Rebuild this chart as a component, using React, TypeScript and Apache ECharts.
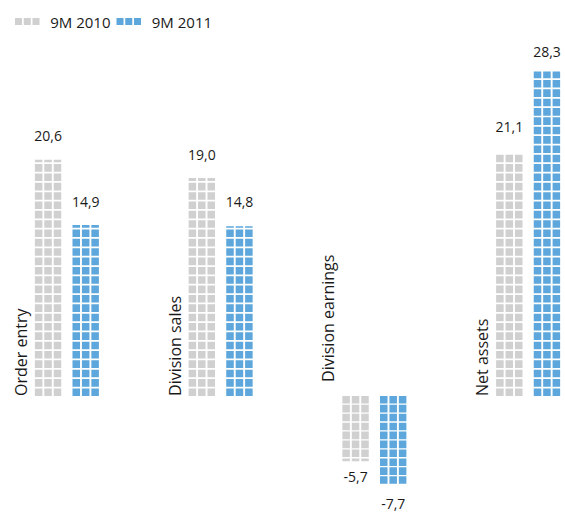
import React, { useEffect, useRef } from 'react';
import * as echarts from 'echarts';

const categories = ['Order entry', 'Division sales', 'Division earnings', 'Net assets'];
const seriesNames = ['9M 2010', '9M 2011'];
const values2010 = [20.6, 19.0, -5.7, 21.1];
const values2011 = [14.9, 14.8, -7.7, 28.3];

const GRAY = '#d0d0d0';
const BLUE = '#5ea7dc';
const TEXT = '#1a1a1a';
const FONT = '"Open Sans", "Noto Sans", sans-serif';
const ICON = 'path://M0,0h8v8h-8z M10,0h8v8h-8z M20,0h8v8h-8z';

const fmt = (v: number) => v.toFixed(1).replace('.', ',');

function makeSeries(name: string, values: number[], color: string) {
  return {
    type: 'pictorialBar',
    name,
    data: values.map((v) => ({
      value: v,
      label: { position: v < 0 ? 'bottom' : 'top', distance: v < 0 ? 4 : 12 },
    })),
    symbol: ICON,
    symbolSize: [26.5, 7.5],
    symbolRepeat: true,
    symbolMargin: 1,
    symbolClip: true,
    symbolBoundingData: [-10, 30],
    barWidth: 26.5,
    barGap: '42%',
    itemStyle: { color },
    label: {
      show: true,
      formatter: (p: any) => fmt(p.value),
      fontSize: 14,
      fontFamily: FONT,
      color: TEXT,
    },
  };
}

export default function App() {
  const ref = useRef<HTMLDivElement>(null);
  useEffect(() => {
    if (!ref.current) return;
    const chart = echarts.init(ref.current, undefined, { renderer: 'svg' });
    chart.setOption({
      animation: false,
      backgroundColor: '#ffffff',
      legend: {
        data: seriesNames,
        left: 20,
        top: 9,
        icon: ICON,
        itemWidth: 26,
        itemHeight: 7,
        itemGap: 6,
        textStyle: { fontSize: 15, fontFamily: FONT, color: TEXT, padding: [0, 0, 0, 5] },
      },
      grid: { left: 0, right: 0, top: 52, bottom: 2.4 },
      xAxis: {
        type: 'category',
        data: categories,
        show: false,
      },
      yAxis: { type: 'value', min: -10, max: 30, show: false },
      series: [makeSeries(seriesNames[0], values2010, GRAY), makeSeries(seriesNames[1], values2011, BLUE)],
    });
    const base = chart.convertToPixel({ yAxisIndex: 0 }, 0) as number;
    const graphics = categories.map((c, i) => {
      const cx = chart.convertToPixel({ xAxisIndex: 0 }, c) as number;
      const neg = values2010[i] < 0 || values2011[i] < 0;
      return {
        type: 'text',
        x: cx - 46,
        y: base - (neg ? 14 : 0),
        rotation: Math.PI / 2,
        style: {
          text: c,
          fontSize: 16,
          fontFamily: FONT,
          fill: TEXT,
          align: 'left',
          verticalAlign: 'middle',
        },
      };
    });
    chart.setOption({ graphic: graphics });
    return () => chart.dispose();
  }, []);
  return (
    <div
      style={{
        position: 'fixed',
        left: 0,
        top: 0,
        width: 565,
        height: 513,
        overflow: 'hidden',
        background: '#ffffff',
      }}
    >
      <div
        ref={ref}
        style={{ position: 'absolute', left: -10, top: 0, width: 615, height: 513 }}
      />
    </div>
  );
}
